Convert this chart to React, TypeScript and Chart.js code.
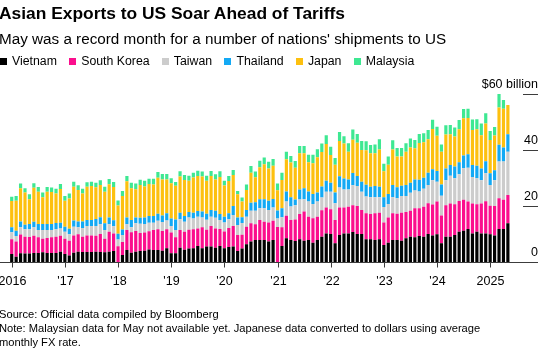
import React, { useEffect, useRef } from 'react';
import { Chart, registerables } from 'chart.js';

Chart.register(...registerables);

const FONT = '"Liberation Sans", Arial, Helvetica, sans-serif';

const title = 'Asian Exports to US Soar Ahead of Tariffs';
const subtitle = "May was a record month for a number of nations' shipments to US";
const sourceNote = 'Source: Official data compiled by Bloomberg';
const noteLines = [
  'Note: Malaysian data for May not available yet. Japanese data converted to dollars using average',
  'monthly FX rate.',
];

const startYear = 2016;
const yearTickLabels = ['2016', "'17", "'18", "'19", "'20", "'21", "'22", "'23", "'24", '2025'];
const yTickValues = [0, 20, 40, 60];
const yTickLabels = ['0', '20', '40', '$60 billion'];

const seriesNames = ['Vietnam', 'South Korea', 'Taiwan', 'Thailand', 'Japan', 'Malaysia'];
const seriesColors = ['#000000', '#fb0e8d', '#cccccc', '#13a9f4', '#fdc00f', '#3ee892'];

// $ billion, Jan 2016 .. May 2025
const vietnam = [
  2.9, 1.9, 3.1, 3.0, 3.0, 3.2, 3.2, 3.5, 3.2, 3.2, 3.2, 3.7,
  2.9, 2.3, 3.3, 3.7, 3.6, 3.6, 3.6, 3.7, 3.6, 3.5, 3.7, 3.9,
  null, 2.5, 4.3, 3.3, 3.7, 3.9, 4.0, 4.5, 4.3, 4.3, 4.0, 4.9,
  3.1, 3.1, 5.1, 4.4, 4.8, 4.9, 5.7, 4.9, 5.5, 5.5, 5.1, 5.7,
  4.9, 5.4, 5.5, 3.9, 4.8, 6.3, 7.3, 7.9, 7.9, 7.9, 7.3, 7.9,
  null, 5.7, 8.5, 7.9, 7.5, 8.1, 7.6, 7.9, 6.9, 7.9, 9.0, 10.2,
  10.0, 6.7, 9.6, 10.2, 10.2, 10.7, 10.0, 10.0, 8.1, 8.1, 7.9, 8.1,
  6.1, 6.9, 7.9, 7.9, 7.6, 8.5, 9.0, 8.8, 9.3, 9.0, 10.0, 9.5,
  9.9, 6.7, 9.0, 9.0, 9.6, 10.8, 11.2, 11.8, 10.2, 10.8, 10.2, 10.2,
  9.9, 9.5, 11.8, 11.8, 13.8,
];

const southKorea = [
  5.2, 5.4, 6.7, 6.0, 5.9, 6.2, 5.6, 4.8, 5.4, 5.6, 5.8, 5.7,
  5.4, 5.3, 6.2, 6.2, 5.4, 5.9, 5.9, 5.7, 6.4, 4.8, 7.1, 6.3,
  5.6, 4.6, 7.1, 7.3, 7.4, 6.5, 6.5, 6.5, 7.1, 7.4, 7.1, 6.8,
  7.4, 5.7, 6.3, 6.4, 6.7, 6.8, 6.3, 7.5, 6.0, 7.4, 6.9, 6.1,
  6.0, 6.7, 7.4, 5.7, 4.9, 6.3, 6.5, 5.6, 7.1, 6.5, 6.8, 6.8,
  12.5, 6.7, 8.0, 7.1, 7.7, 9.0, 10.4, 8.3, 8.7, 8.3, 9.5, 9.3,
  8.8, 8.3, 9.9, 9.3, 9.5, 9.6, 10.0, 8.6, 9.3, 9.0, 9.5, 9.5,
  8.0, 9.0, 9.5, 9.3, 10.0, 9.4, 9.3, 10.4, 9.9, 10.7, 11.0, 11.0,
  11.7, 9.9, 11.3, 11.9, 11.0, 11.0, 11.0, 9.8, 10.7, 9.8, 10.7, 11.5,
  10.2, 10.5, 11.0, 10.4, 10.1,
];

const taiwan = [
  2.5, 2.0, 2.6, 2.7, 2.8, 3.0, 2.6, 3.1, 2.8, 2.6, 2.7, 2.6,
  2.5, 2.3, 3.1, 2.5, 3.1, 3.4, 3.4, 3.5, 3.5, 3.1, 2.7, 2.6,
  2.4, 2.5, 2.1, 1.8, 2.7, 3.3, 3.1, 3.0, 2.6, 3.0, 3.2, 3.1,
  2.4, 2.6, 3.9, 3.6, 4.4, 3.8, 4.2, 3.5, 3.6, 3.3, 3.8, 3.2,
  3.2, 3.2, 3.9, 3.6, 4.2, 3.6, 4.5, 4.8, 4.2, 4.8, 4.5, 4.8,
  3.0, 3.6, 5.1, 4.8, 5.1, 5.2, 4.4, 5.4, 5.1, 5.4, 4.5, 5.6,
  6.3, 6.0, 7.1, 6.4, 6.2, 7.1, 7.1, 6.5, 6.0, 6.0, 5.7, 5.5,
  5.5, 4.8, 5.7, 5.6, 6.0, 5.7, 6.4, 6.3, 6.0, 6.5, 6.5, 8.7,
  7.1, 7.1, 8.9, 9.9, 9.3, 9.5, 11.3, 12.1, 9.5, 9.3, 8.3, 10.0,
  7.4, 9.2, 13.1, 13.7, 15.5,
];

const thailand = [
  1.8, 1.9, 2.1, 1.6, 1.9, 2.0, 2.2, 2.2, 2.2, 2.2, 2.2, 2.0,
  1.8, 2.0, 2.2, 2.1, 2.4, 2.1, 2.1, 2.5, 2.5, 2.4, 2.4, 2.1,
  2.1, 2.0, 2.4, 2.6, 2.1, 2.1, 2.3, 2.4, 2.4, 2.5, 2.3, 2.6,
  2.6, 3.8, 2.3, 2.0, 2.0, 2.1, 2.0, 2.1, 2.1, 2.4, 2.5, 2.1,
  2.1, 2.1, 3.2, 2.7, 2.1, 2.4, 2.9, 3.0, 3.2, 3.2, 3.3, 3.0,
  2.9, 3.2, 3.6, 3.3, 2.0, 3.6, 3.9, 3.6, 3.6, 3.2, 4.0, 3.9,
  3.2, 3.8, 4.0, 3.9, 3.6, 4.4, 3.6, 3.6, 4.2, 3.8, 4.0, 3.8,
  3.5, 3.6, 4.4, 3.9, 3.6, 3.9, 3.6, 4.0, 4.2, 3.9, 4.4, 3.9,
  3.8, 4.0, 4.2, 3.8, 4.2, 4.3, 4.5, 4.8, 4.2, 4.5, 4.2, 4.3,
  4.2, 3.6, 6.0, 5.0, 6.2,
];

const japan = [
  9.4, 10.7, 11.8, 11.5, 8.8, 12.1, 11.5, 9.5, 11.5, 11.4, 10.6, 12.1,
  9.3, 10.8, 12.1, 11.2, 10.0, 11.9, 12.1, 11.3, 11.5, 11.3, 11.9, 11.9,
  10.1, 12.0, 12.9, 11.3, 10.1, 11.7, 11.1, 11.5, 11.3, 12.9, 12.9, 12.1,
  12.6, 12.0, 12.9, 12.9, 11.1, 12.6, 12.5, 12.5, 11.8, 12.1, 11.2, 13.3,
  11.1, 11.5, 11.1, 8.3, 5.6, 7.1, 10.7, 9.0, 11.4, 12.5, 11.5, 11.9,
  7.2, 10.1, 11.5, 12.4, 11.4, 12.9, 12.5, 10.4, 11.0, 12.6, 12.3, 13.1,
  9.9, 9.9, 12.6, 12.5, 9.9, 11.9, 11.9, 11.3, 12.3, 11.9, 11.7, 13.3,
  9.3, 10.4, 12.7, 11.0, 10.5, 11.9, 12.6, 11.1, 13.1, 12.7, 11.9, 14.4,
  12.6, 11.7, 12.1, 11.0, 10.7, 11.8, 13.3, 12.9, 12.5, 13.0, 11.9, 13.5,
  11.9, 12.4, 13.3, 13.8, 10.5,
];

const malaysia = [
  1.5, 1.7, 1.7, 1.5, 1.8, 1.6, 1.7, 1.7, 1.7, 1.6, 1.7, 1.8,
  1.7, 1.8, 1.8, 1.7, 1.7, 1.6, 1.6, 1.6, 1.7, 1.8, 1.8, 1.8,
  1.8, 1.8, 1.9, 2.0, 2.0, 1.9, 2.0, 1.8, 2.0, 2.0, 1.9, 1.9,
  1.8, 1.4, 1.9, 1.8, 1.8, 1.7, 1.9, 1.8, 1.8, 1.8, 1.8, 2.0,
  1.7, 1.8, 1.8, 1.2, 1.4, 2.0, 2.4, 2.0, 2.4, 2.4, 2.4, 2.4,
  2.4, 2.6, 2.7, 2.4, 2.4, 2.6, 2.6, 2.7, 3.0, 2.9, 3.0, 3.2,
  3.0, 2.4, 3.2, 2.6, 3.0, 3.6, 3.1, 3.2, 3.2, 3.0, 3.2, 3.6,
  2.7, 3.0, 3.3, 3.0, 3.0, 3.0, 3.2, 3.0, 3.2, 3.2, 3.3, 3.3,
  3.2, 2.6, 3.3, 3.3, 3.2, 3.3, 3.3, 3.3, 3.8, 3.6, 4.2, 3.6,
  3.2, 3.0, 4.8, 3.2, null,
];

const seriesData = [vietnam, southKorea, taiwan, thailand, japan, malaysia];

const monthLabels: string[] = vietnam.map((_, i) => {
  const y = startYear + Math.floor(i / 12);
  const m = (i % 12) + 1;
  return `${y}-${m < 10 ? '0' + m : m}`;
});

const axesPlugin = {
  id: 'bbgAxes',
  beforeDatasetsDraw(chart: any) {
    const { ctx, scales } = chart;
    const x = scales.x;
    const y = scales.y;
    const y0 = Math.round(y.getPixelForValue(0)) + 0.5;
    ctx.save();
    ctx.strokeStyle = '#3c3c3c';
    ctx.lineWidth = 1;
    ctx.beginPath();
    ctx.moveTo(0, y0);
    ctx.lineTo(538, y0);
    ctx.stroke();
    // year ticks + labels
    ctx.fillStyle = '#000';
    ctx.font = `12.5px ${FONT}`;
    ctx.textAlign = 'center';
    ctx.textBaseline = 'alphabetic';
    for (let i = 0; i < monthLabels.length; i += 12) {
      const px = Math.round(x.getPixelForValue(i)) + 0.5;
      ctx.beginPath();
      ctx.moveTo(px, y0);
      ctx.lineTo(px, y0 + 5);
      ctx.stroke();
      const lbl = yearTickLabels[i / 12];
      if (lbl) ctx.fillText(lbl, px, y0 + 22);
    }
    // right y axis
    ctx.textAlign = 'right';
    yTickValues.forEach((v, k) => {
      const py = Math.round(y.getPixelForValue(v)) + 0.5;
      if (v !== 0) {
        ctx.beginPath();
        ctx.moveTo(523, py);
        ctx.lineTo(538, py);
        ctx.stroke();
      }
      ctx.fillText(yTickLabels[k], 538, py - 6.5);
    });
    ctx.restore();
  },
};

export default function App() {
  const canvasRef = useRef<HTMLCanvasElement | null>(null);

  useEffect(() => {
    if (!canvasRef.current) return;
    const chart = new Chart(canvasRef.current, {
      type: 'bar',
      data: {
        labels: monthLabels,
        datasets: seriesNames.map((name, i) => ({
          label: name,
          data: seriesData[i] as any,
          backgroundColor: seriesColors[i],
          borderWidth: 0,
          barPercentage: 0.72,
          categoryPercentage: 1,
        })),
      },
      options: {
        responsive: false,
        animation: false,
        layout: { padding: { left: 9.5, right: 29.9, top: 94, bottom: 98 } },
        plugins: {
          legend: { display: false },
          tooltip: { enabled: false },
          title: { display: false },
        },
        scales: {
          x: { stacked: true, display: false, offset: true },
          y: { stacked: true, display: false, min: 0, max: 60 },
        },
      },
      plugins: [axesPlugin],
    });
    return () => chart.destroy();
  }, []);

  const legendLeft = 0;
  return (
    <div
      style={{
        position: 'fixed',
        left: 0,
        top: 0,
        width: 540,
        height: 360,
        background: '#fff',
        overflow: 'hidden',
        fontFamily: FONT,
        color: '#000',
      }}
    >
      <canvas ref={canvasRef} width={540} height={360} style={{ position: 'absolute', left: 0, top: 0, display: 'block' }} />
      <div style={{ position: 'absolute', left: -1, top: 4.9, fontSize: 17.4, lineHeight: 1, fontWeight: 700, whiteSpace: 'nowrap' }}>
        {title}
      </div>
      <div style={{ position: 'absolute', left: -1, top: 30.6, fontSize: 15.25, lineHeight: 1, whiteSpace: 'nowrap' }}>
        {subtitle}
      </div>
      <div style={{ position: 'absolute', left: legendLeft, top: 54.9, display: 'flex', alignItems: 'flex-start', whiteSpace: 'nowrap' }}>
        {seriesNames.map((n, i) => (
          <div key={n} style={{ display: 'flex', alignItems: 'flex-start', marginRight: 12.3 }}>
            <span style={{ display: 'inline-block', width: 7, height: 7, marginTop: 3.2, marginRight: 5, background: seriesColors[i] }} />
            <span style={{ fontSize: 12.3, lineHeight: 1 }}>{n}</span>
          </div>
        ))}
      </div>
      <div style={{ position: 'absolute', left: -1, top: 308.3, fontSize: 11.15, lineHeight: '13.7px', whiteSpace: 'nowrap' }}>
        <div>{sourceNote}</div>
        {noteLines.map((l) => (
          <div key={l}>{l}</div>
        ))}
      </div>
    </div>
  );
}
